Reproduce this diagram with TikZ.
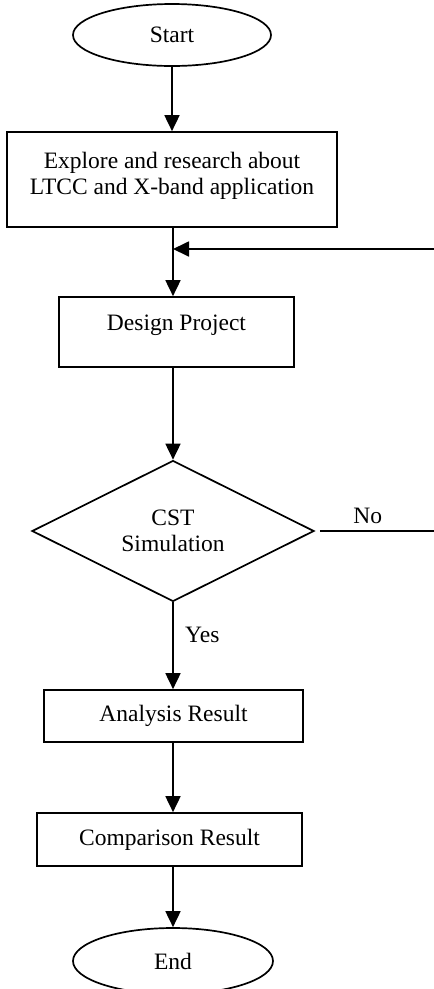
\documentclass[tikz,border=0pt]{standalone}
\usepackage{fontspec}
\setmainfont{Liberation Serif}
\usepackage{tikz}
\usetikzlibrary{arrows.meta,positioning,shapes.geometric}

\begin{document}
\begin{tikzpicture}[
  x=1pt,y=-1pt,
  every node/.style={font=\fontsize{23.5}{26}\selectfont},
  term/.style={draw,ellipse,line width=1.7pt,inner sep=0pt,minimum width=198pt,minimum height=62pt},
  box/.style={draw,rectangle,line width=1.7pt,inner sep=0pt,align=center},
  decide/.style={draw,diamond,line width=1.7pt,inner sep=0pt,aspect=2,minimum width=282pt,minimum height=141pt,align=center},
  arr/.style={-{Triangle[length=16pt,width=15pt]},line width=1.8pt},
  line/.style={line width=1.8pt}
]
\useasboundingbox (0,0) rectangle (434,989);
\node[term] (start) at (172,35) {Start};
\node[box,minimum width=330pt,minimum height=95pt] (explore) at (172,179.5)
  {\raisebox{27pt}{\begin{tabular}{@{}c@{}}Explore and research about\\LTCC and X-band application\end{tabular}}};
\node[box,minimum width=235pt,minimum height=70pt] (design) at (176.5,332) {\raisebox{19pt}{Design Project}};
\node[decide] (sim) at (173,531) {CST\\Simulation};
\node[box,minimum width=259pt,minimum height=52pt] (analysis) at (173.5,716) {Analysis Result};
\node[box,minimum width=265pt,minimum height=53pt] (compare) at (169.5,839.5) {Comparison Result};
\node[term,minimum width=200pt,minimum height=66pt] (end) at (173,961) {End};
\coordinate (back) at (434,249);
\coordinate (no) at (434,531);
\coordinate (mid) at (173,249);
\draw[arr] (start.south) -- (start.south |- explore.north);
\draw[line] (explore.south -| mid) -- (mid);
\draw[arr] (mid) -- (mid |- design.north);
\draw[arr] (back) -- (mid);
\draw[arr] (design.south -| sim.north) -- (sim.north);
\draw[line] ([xshift=5pt]sim.east) -- node[pos=0.42,above=3pt]{No} (no);
\draw[arr] (sim.south) -- node[pos=0.38,right=8pt]{Yes} (sim.south |- analysis.north);
\draw[arr] (analysis.south -| sim.south) -- (sim.south |- compare.north);
\draw[arr] (compare.south -| sim.south) -- (sim.south |- end.north);
\end{tikzpicture}
\end{document}
